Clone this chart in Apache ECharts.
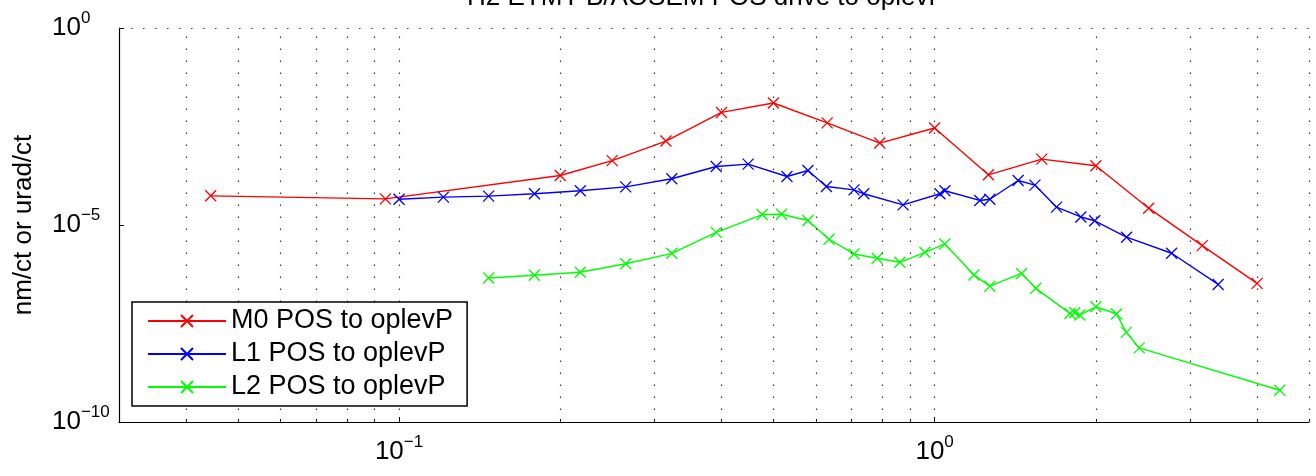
<!DOCTYPE html>
<html>
<head>
<meta charset="utf-8">
<script src="https://cdn.jsdelivr.net/npm/echarts@6/dist/echarts.min.js"></script>
<style>
html,body{margin:0;padding:0;background:#fff;}
#c{width:1316px;height:476px;}
</style>
</head>
<body>
<div id="c"></div>
<script>
// ---- data ----
const titleText = 'H2 ETMY-B/AOSEM POS drive to oplevP';
const yName = 'nm/ct or urad/ct';
const seriesNames = ['M0 POS to oplevP', 'L1 POS to oplevP', 'L2 POS to oplevP'];

const m0Freq = [0.0445, 0.0943, 0.2, 0.25, 0.315, 0.4, 0.5, 0.63, 0.79, 1.0, 1.26, 1.585, 2.0, 2.51, 3.16, 4.0];
const m0Val  = [5.5e-5, 4.6e-5, 1.8e-4, 4.3e-4, 1.35e-3, 7.2e-3, 1.25e-2, 3.9e-3, 1.2e-3, 2.9e-3, 1.88e-4, 4.7e-4, 3.2e-4, 2.67e-5, 3.0e-6, 3.3e-7];

const l1Freq = [0.1, 0.121, 0.147, 0.179, 0.218, 0.265, 0.323, 0.391, 0.4485, 0.530, 0.580, 0.628, 0.707, 0.7375, 0.873, 1.023, 1.045, 1.214, 1.268, 1.432, 1.539, 1.689, 1.875, 1.99, 2.282, 2.77, 3.384];
const l1Val  = [4.5e-5, 5.1e-5, 5.4e-5, 6.2e-5, 7.4e-5, 9.3e-5, 1.49e-4, 3.06e-4, 3.5e-4, 1.7e-4, 2.42e-4, 9.5e-5, 7.8e-5, 6.2e-5, 3.24e-5, 6.2e-5, 7.4e-5, 4.2e-5, 4.5e-5, 1.35e-4, 1.03e-4, 2.84e-5, 1.6e-5, 1.28e-5, 4.9e-6, 1.92e-6, 3.1e-7];

const l2Freq = [0.147, 0.179, 0.218, 0.265, 0.323, 0.391, 0.4765, 0.5177, 0.580, 0.635, 0.707, 0.781, 0.861, 0.959, 1.045, 1.184, 1.268, 1.453, 1.545, 1.789, 1.827, 1.867, 2.0, 2.186, 2.28, 2.41, 4.41];
const l2Val  = [4.5e-7, 5.3e-7, 6.3e-7, 1.04e-6, 1.91e-6, 6.5e-6, 1.84e-5, 1.88e-5, 1.3e-5, 4.35e-6, 1.84e-6, 1.43e-6, 1.13e-6, 2.03e-6, 3.3e-6, 5.4e-7, 2.8e-7, 5.9e-7, 2.47e-7, 5.7e-8, 5.9e-8, 5.2e-8, 8.4e-8, 5.5e-8, 1.88e-8, 7.6e-9, 6.4e-10];

const xMin = 0.03, xMax = 5;
const yMin = 1e-10, yMax = 1;
const xMajorTicks = [0.1, 1];
const xMinorTicks = [0.04, 0.05, 0.06, 0.07, 0.08, 0.09, 0.2, 0.3, 0.4, 0.5, 0.6, 0.7, 0.8, 0.9, 2, 3, 4, 5];
const xGrid = [0.04, 0.05, 0.06, 0.07, 0.08, 0.09, 0.1, 0.2, 0.3, 0.4, 0.5, 0.6, 0.7, 0.8, 0.9, 1, 2, 3, 4, 5];
const yMajorTicks = [1e-10, 1e-5, 1];
const yGrid = [1e-5, 1];

// ---- chart ----
const FONT = '"Liberation Sans", Arial, Helvetica, sans-serif';
const colors = ['#ff0000', '#0000ff', '#00ff00'];
const xSym = 'path://M0,0L10,10M10,0L0,10';

function pow10Label(v) {
  const e = Math.round(Math.log10(v));
  const s = e < 0 ? '\u2212' + (-e) : String(e);
  return '{b|10}{s|' + s + '}';
}
const labelRich = {
  b: { fontSize: 26, fontFamily: FONT, color: '#000' },
  s: { fontSize: 17, fontFamily: FONT, color: '#000', padding: [0, 0, 19, 0] }
};

const gridStyle = { color: '#333', width: 1.2, type: [1.5, 10.5] };

function pairs(fs, vs) { return fs.map((f, i) => [f, vs[i]]); }

const freqs = [m0Freq, l1Freq, l2Freq];
const vals = [m0Val, l1Val, l2Val];

const dataSeries = seriesNames.map((n, i) => ({
  name: n,
  type: 'line',
  data: pairs(freqs[i], vals[i]),
  symbol: xSym,
  symbolSize: 11,
  showAllSymbol: true,
  lineStyle: { color: colors[i], width: 1.4 },
  itemStyle: { color: colors[i], borderColor: colors[i], borderWidth: 1.3 },
  z: 3
}));

const gridSeries = {
  type: 'line',
  data: [],
  silent: true,
  z: 1,
  markLine: {
    silent: true,
    symbol: ['none', 'none'],
    label: { show: false },
    lineStyle: gridStyle,
    animation: false,
    data: xGrid.map(v => ({ xAxis: v })).concat(yGrid.map(v => ({ yAxis: v })))
  }
};

const chart = echarts.init(document.getElementById('c'), null, { renderer: 'canvas' });
chart.setOption({
  animation: false,
  backgroundColor: '#fff',
  title: {
    text: titleText,
    left: 467,
    top: -15,
    padding: 0,
    textStyle: { fontFamily: FONT, fontSize: 26, fontWeight: 'normal', color: '#000' }
  },
  grid: { left: 119, right: 7, top: 28, bottom: 54, containLabel: false, outerBoundsMode: 'none' },
  legend: {
    orient: 'vertical',
    left: 132,
    top: 302,
    data: seriesNames,
    itemWidth: 78,
    itemHeight: 15,
    itemGap: 5,
    padding: [5, 14, 5, 15],
    backgroundColor: '#fff',
    borderColor: '#000',
    borderWidth: 1.5,
    borderRadius: 0,
    textStyle: { fontFamily: FONT, fontSize: 27, color: '#000', lineHeight: 28 },
    z: 10
  },
  xAxis: [{
    type: 'log', logBase: 10, min: xMin, max: xMax, position: 'bottom',
    axisLine: { show: true, onZero: false, lineStyle: { color: '#000', width: 1.2 } },
    axisTick: { show: true, inside: true, length: 5, customValues: xMajorTicks, lineStyle: { color: '#000', width: 1 } },
    axisLabel: { customValues: xMajorTicks, formatter: pow10Label, rich: labelRich, margin: 12 },
    splitLine: { show: false },
    minorTick: { show: false }, minorSplitLine: { show: false }
  }, {
    type: 'log', logBase: 10, min: xMin, max: xMax, position: 'bottom', offset: 0,
    axisLine: { show: false },
    axisTick: { show: true, inside: true, length: 3, customValues: xMinorTicks, lineStyle: { color: '#000', width: 1 } },
    axisLabel: { show: false },
    splitLine: { show: false }
  }],
  yAxis: {
    type: 'log', logBase: 10, min: yMin, max: yMax,
    name: yName, nameLocation: 'middle', nameGap: 82, nameRotate: 90,
    nameTextStyle: { fontFamily: FONT, fontSize: 26, color: '#000' },
    axisLine: { show: true, onZero: false, lineStyle: { color: '#000', width: 1.2 } },
    axisTick: { show: true, inside: true, length: 5, customValues: yMajorTicks, lineStyle: { color: '#000', width: 1 } },
    axisLabel: { customValues: yMajorTicks, formatter: pow10Label, rich: labelRich, align: 'left', margin: 67 },
    splitLine: { show: false },
    minorTick: { show: false }
  },
  series: [gridSeries].concat(dataSeries)
});
</script>
</body>
</html>
